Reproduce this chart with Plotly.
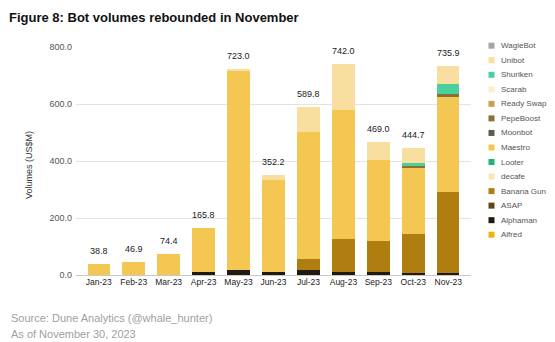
import plotly.graph_objects as go

months = ["Jan-23", "Feb-23", "Mar-23", "Apr-23", "May-23", "Jun-23",
          "Jul-23", "Aug-23", "Sep-23", "Oct-23", "Nov-23"]
totals = [38.8, 46.9, 74.4, 165.8, 723.0, 352.2, 589.8, 742.0, 469.0, 444.7, 735.9]

# stacked series, bottom -> top
alfred     = [0, 0, 0, 0, 0, 0, 0, 0, 0, 0, 0]
alphaman   = [0, 0, 0, 10, 18, 10, 16, 12, 10, 8, 8]
asap       = [0, 0, 0, 0, 0, 0, 0, 0, 0, 0, 0]
banana_gun = [0, 0, 0, 0, 0, 0, 39, 113, 111, 137, 284]
decafe     = [0, 0, 0, 0, 0, 0, 0, 0, 0, 0, 0]
looter     = [0, 0, 0, 0, 0, 0, 0, 0, 0, 0, 0]
maestro    = [38.8, 46.9, 74.4, 155.8, 700, 322.2, 448.8, 456, 282, 232.7, 332.9]
moonbot    = [0, 0, 0, 0, 0, 0, 0, 0, 0, 0, 0]
pepeboost  = [0, 0, 0, 0, 0, 0, 0, 0, 0, 7, 12]
ready_swap = [0, 0, 0, 0, 0, 0, 0, 0, 0, 0, 0]
scarab     = [0, 0, 0, 0, 0, 0, 0, 0, 0, 0, 0]
shuriken   = [0, 0, 0, 0, 0, 0, 0, 0, 0, 9, 35]
unibot     = [0, 0, 0, 0, 5, 20, 86, 161, 66, 51, 64]
wagiebot   = [0, 0, 0, 0, 0, 0, 0, 0, 0, 0, 0]

series = [
    ("Alfred", alfred, "#EDB511"),
    ("Alphaman", alphaman, "#201A10"),
    ("ASAP", asap, "#5D4715"),
    ("Banana Gun", banana_gun, "#AF7D10"),
    ("decafe", decafe, "#FAE6B0"),
    ("Looter", looter, "#1DB57A"),
    ("Maestro", maestro, "#F3C752"),
    ("Moonbot", moonbot, "#5F5B50"),
    ("PepeBoost", pepeboost, "#8C6E38"),
    ("Ready Swap", ready_swap, "#C79F4F"),
    ("Scarab", scarab, "#FBEFC8"),
    ("Shuriken", shuriken, "#4CCF9E"),
    ("Unibot", unibot, "#F8DFA0"),
    ("WagieBot", wagiebot, "#A5A5A5"),
]

W, H = 555, 342
ML, MR, MT, MB = 76, 84, 47, 67
PW, PH = W - ML - MR, H - MT - MB
FONT = "Liberation Sans, Arial, sans-serif"


def px_x(x):
    return (x - ML) / PW


def px_y(y):
    return (H - MB - y) / PH


fig = go.Figure()
for name, vals, col in series:
    fig.add_trace(go.Bar(x=months, y=vals, name=name, marker_color=col,
                         marker_line_width=0, showlegend=False))

annotations = []
for m, t in zip(months, totals):
    annotations.append(dict(x=m, y=t, text=f"{t:.1f}", showarrow=False,
                            xref="x", yref="y", yanchor="bottom", yshift=6,
                            font=dict(size=9, color="#222", family=FONT)))

# custom legend (top of stack first)
shapes = []
leg_top, leg_step = 45.7, 14.54
for i, (name, vals, col) in enumerate(reversed(series)):
    yc = leg_top + i * leg_step
    shapes.append(dict(type="rect", xref="paper", yref="paper",
                       x0=px_x(488.5), x1=px_x(494.5),
                       y0=px_y(yc + 3), y1=px_y(yc - 3),
                       fillcolor=col, line_width=0))
    annotations.append(dict(x=px_x(499), y=px_y(yc), xref="paper", yref="paper",
                            text=name, showarrow=False, xanchor="left", yanchor="middle",
                            font=dict(size=8, color="#555", family=FONT)))

annotations.append(dict(x=px_x(8.5), y=px_y(317.5), xref="paper", yref="paper",
                        text="Source: Dune Analytics (@whale_hunter)", showarrow=False,
                        xanchor="left", yanchor="middle",
                        font=dict(size=11, color="#A0A0A0", family=FONT)))
annotations.append(dict(x=px_x(8.5), y=px_y(334.5), xref="paper", yref="paper",
                        text="As of November 30, 2023", showarrow=False,
                        xanchor="left", yanchor="middle",
                        font=dict(size=11, color="#A0A0A0", family=FONT)))
annotations.append(dict(x=px_x(29), y=px_y(165), xref="paper", yref="paper",
                        text="Volumes (US$M)", showarrow=False, textangle=-90,
                        xanchor="center", yanchor="middle",
                        font=dict(size=9, color="#333", family=FONT)))

fig.update_layout(
    barmode="stack",
    bargap=0.36,
    width=W, height=H,
    margin=dict(l=ML, r=MR, t=MT, b=MB, autoexpand=False),
    paper_bgcolor="white", plot_bgcolor="white",
    title=dict(text="<b>Figure 8: Bot volumes rebounded in November</b>",
               x=9 / W, xanchor="left", xref="container",
               y=1 - 17 / H, yanchor="middle", yref="container",
               font=dict(size=13, color="#111", family=FONT)),
    xaxis=dict(type="category", range=[-0.65, 10.65], showgrid=False, ticks="",
               tickfont=dict(size=8.5, color="#222", family=FONT), showline=False,
               automargin=False),
    yaxis=dict(range=[0, 801], tickvals=[0, 200, 400, 600, 800], tickformat=".1f",
               showgrid=True, gridcolor="#E3E3E3", gridwidth=1,
               zeroline=True, zerolinecolor="#C8C8C8", zerolinewidth=1,
               ticks="", ticklabelstandoff=3,
               tickfont=dict(size=9, color="#555", family=FONT),
               automargin=False),
    annotations=annotations,
    shapes=shapes,
    showlegend=False,
)

fig.write_html("out.html")
